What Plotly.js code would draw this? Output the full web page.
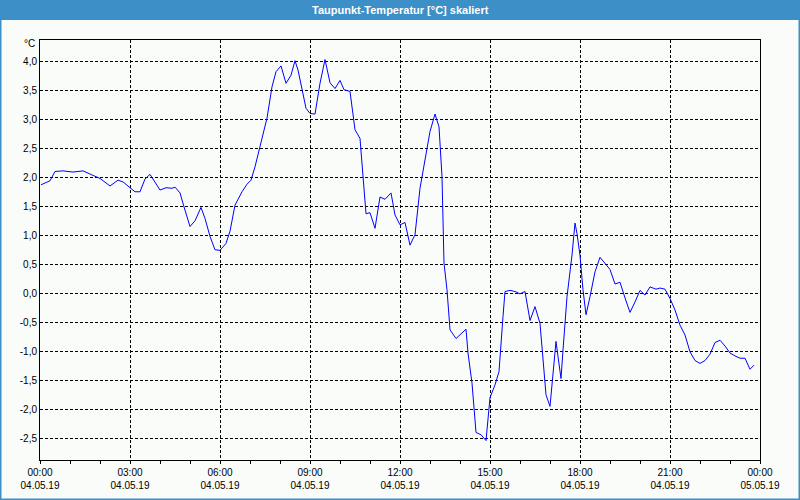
<!DOCTYPE html>
<html>
<head>
<meta charset="utf-8">
<script src="https://cdn.plot.ly/plotly-3.0.1.min.js"></script>
<style>
html,body{margin:0;padding:0;background:#fafcfa;}
#chart{width:800px;height:500px;}
</style>
</head>
<body>
<div id="chart"></div>
<script>
// Time of day (04.05.19) and dew point temperature in °C
var times = ["00:02","00:20","00:30","00:46","01:06","01:26","01:44","02:00","02:20","02:36","02:46","03:00","03:10","03:20","03:30","03:40","03:50","04:00","04:12","04:24","04:30","04:40","04:48","05:00","05:10","05:22","05:30","05:40","05:50","06:00","06:12","06:20","06:30","06:44","06:54","07:02","07:10","07:20","07:34","07:44","07:52","08:02","08:12","08:22","08:30","08:36","08:46","08:52","09:00","09:10","09:20","09:30","09:40","09:50","10:00","10:08","10:20","10:30","10:40","10:46","10:52","11:00","11:10","11:20","11:30","11:42","11:50","12:00","12:10","12:20","12:30","12:40","12:50","13:00","13:10","13:18","13:24","13:28","13:34","13:40","13:52","14:02","14:12","14:16","14:24","14:32","14:42","14:52","15:00","15:10","15:18","15:26","15:30","15:40","15:50","16:00","16:10","16:20","16:30","16:40","16:46","16:52","17:00","17:06","17:12","17:16","17:22","17:26","17:34","17:44","17:50","17:54","18:00","18:06","18:12","18:20","18:30","18:40","18:50","19:00","19:10","19:20","19:30","19:40","19:50","20:00","20:10","20:20","20:32","20:40","20:50","21:00","21:10","21:20","21:30","21:40","21:50","22:00","22:10","22:20","22:30","22:40","22:50","23:00","23:10","23:20","23:30","23:40","23:48"];
var dewpoint = [1.87,1.94,2.10,2.11,2.09,2.11,2.04,1.98,1.85,1.95,1.92,1.83,1.75,1.75,1.97,2.05,1.91,1.78,1.82,1.81,1.83,1.73,1.49,1.15,1.25,1.48,1.29,0.98,0.75,0.74,0.86,1.07,1.52,1.75,1.88,1.95,2.18,2.53,3.02,3.56,3.82,3.92,3.62,3.76,4.01,3.85,3.45,3.19,3.10,3.09,3.62,4.03,3.63,3.53,3.67,3.51,3.48,2.82,2.67,2.01,1.37,1.39,1.12,1.66,1.62,1.73,1.35,1.18,1.22,0.83,1.01,1.81,2.33,2.79,3.09,2.87,2.01,0.52,0.06,-0.63,-0.78,-0.70,-0.62,-1.03,-1.55,-2.40,-2.44,-2.54,-1.80,-1.58,-1.35,-0.40,0.03,0.05,0.03,-0.01,0.03,-0.47,-0.23,-0.52,-1.21,-1.75,-1.95,-1.44,-0.83,-1.09,-1.47,-0.98,-0.06,0.66,1.21,1.03,0.65,0.06,-0.37,-0.06,0.37,0.62,0.52,0.41,0.16,0.19,-0.08,-0.33,-0.15,0.05,-0.03,0.11,0.07,0.09,0.07,-0.09,-0.29,-0.55,-0.72,-1.01,-1.16,-1.21,-1.16,-1.05,-0.85,-0.81,-0.91,-1.03,-1.08,-1.12,-1.12,-1.31,-1.24];
var day = "2019-05-04";
var xStart = "2019-05-04 00:00";
var xEnd = "2019-05-05 00:00";
var yTicks = [-2.5,-2.0,-1.5,-1.0,-0.5,0.0,0.5,1.0,1.5,2.0,2.5,3.0,3.5,4.0];
var titleText = "Taupunkt-Temperatur [°C] skaliert";
var unitText = "°C";

var xs = times.map(function(t){ return day + " " + t; });
var yTickText = yTicks.map(function(v){ return v.toFixed(1).replace(".", ","); });

var font = "Liberation Sans, Arial, sans-serif";

var trace = {
  x: xs, y: dewpoint, type: "scatter", mode: "lines",
  line: {color: "#0000ff", width: 1}, hoverinfo: "skip"
};

var layout = {
  width: 800, height: 500,
  margin: {l: 40, r: 40, t: 40, b: 40},
  paper_bgcolor: "#fafcfa",
  plot_bgcolor: "#fafcfa",
  showlegend: false,
  font: {family: font, size: 10, color: "#000"},
  xaxis: {
    type: "date",
    range: [xStart, xEnd],
    tick0: xStart,
    dtick: 3 * 3600000,
    tickformat: "%H:%M<br>%d.%m.%y",
    ticks: "outside", ticklen: 3, tickcolor: "#000",
    minor: {dtick: 3600000, ticks: "outside", ticklen: 3, tickcolor: "#000", showgrid: false},
    showgrid: true, gridcolor: "#000", gridwidth: 1, griddash: "3px,2px",
    showline: true, linecolor: "#000", linewidth: 1, mirror: true,
    zeroline: false,
    tickfont: {family: font, size: 10, color: "#000"}
  },
  yaxis: {
    range: [-2.875, 4.367],
    tickmode: "array", tickvals: yTicks, ticktext: yTickText,
    ticks: "", 
    showgrid: true, gridcolor: "#000", gridwidth: 1, griddash: "3px,2px",
    showline: true, linecolor: "#000", linewidth: 1, mirror: true,
    zeroline: false,
    tickfont: {family: font, size: 10, color: "#000"}
  },
  shapes: [
    {type: "rect", xref: "paper", yref: "paper",
     x0: -40/720, x1: 1 + 40/720, y0: (460-20)/420, y1: 460/420 + 0.01,
     fillcolor: "#3c8fc7", line: {width: 0}, layer: "below"},
    {type: "rect", xref: "paper", yref: "paper",
     x0: -40/720, x1: 1 + 40/720, y0: -40/420, y1: 460/420,
     fillcolor: "rgba(0,0,0,0)", line: {color: "#3c8fc7", width: 3}, layer: "above"}
  ],
  annotations: [
    {text: "<b>" + titleText + "</b>", xref: "paper", yref: "paper", x: 0.5, y: (460-10)/420,
     xanchor: "center", yanchor: "middle", showarrow: false,
     font: {family: font, size: 11, color: "#ffffff"}},
    {text: unitText, xref: "paper", yref: "paper", x: -3/720, y: (460-44)/420,
     xanchor: "right", yanchor: "middle", showarrow: false,
     font: {family: font, size: 10, color: "#000"}}
  ]
};

Plotly.newPlot("chart", [trace], layout, {displayModeBar: false, staticPlot: true});
</script>
</body>
</html>
